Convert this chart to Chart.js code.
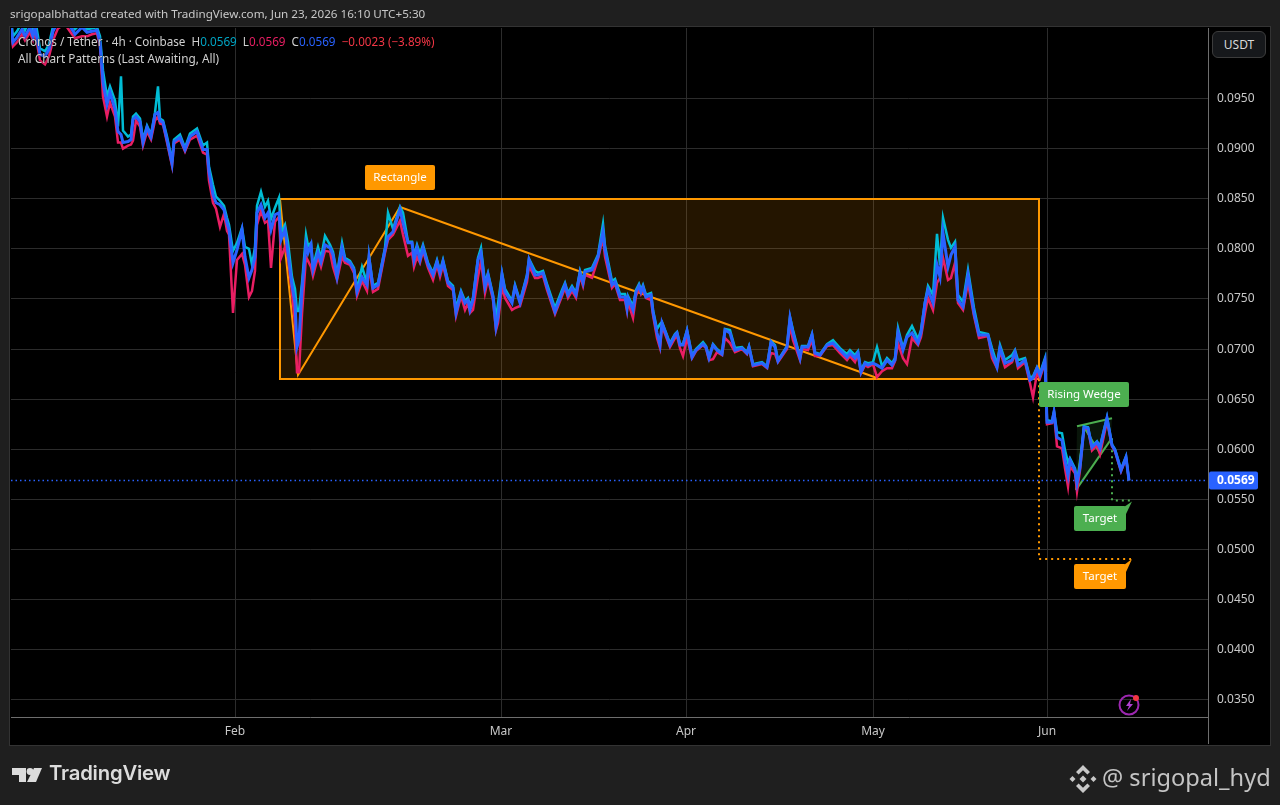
<!DOCTYPE html>
<html>
<head>
<meta charset="utf-8">
<title>Cronos / Tether</title>
<script src="https://cdn.jsdelivr.net/npm/chart.js@4"></script>
<style>
  html, body { margin: 0; padding: 0; background: #1f1f1f; }
  body { position: relative; width: 1280px; height: 805px; overflow: hidden; font-family: "Noto Sans", sans-serif; }
  #panel { position: absolute; left: 10px; top: 27px; width: 1260px; height: 718px; background: #000; box-shadow: 0 0 0 1px #333; }
  canvas { position: absolute; left: 0; top: 0; }
  .txt { position: absolute; white-space: pre; z-index: 2; }
  #header { left: 10px; top: 6px; font-size: 11.66px; color: #c8c8c8; }
  #legend1 { left: 18px; top: 33px; font-size: 11.7px; color: #d0d0d0; text-shadow: 0 0 2px #000; }
  #legend2 { left: 18px; top: 50px; font-size: 11.8px; color: #d0d0d0; text-shadow: 0 0 2px #000; }
  #usdt { left: 1212px; top: 31px; width: 54px; height: 27px; line-height: 27px; text-align: center; box-sizing: border-box;
    border: 1px solid #3c3c3c; border-radius: 6px; background: #16181b; font-size: 12px; color: #d8d8d8; line-height: 25px; }
  #brand { left: 49px; top: 760px; font-family: Inter, sans-serif; font-weight: 600; font-size: 20.3px; color: #dcdcdc; letter-spacing: -0.2px; }
  #handle { left: 1102px; top: 761px; font-size: 23.6px; color: #c4c4c4; }
  svg { position: absolute; z-index: 2; }
</style>
</head>
<body>
<div id="panel"></div>
<canvas id="chart" width="1280" height="805"></canvas>

<div class="txt" id="header">srigopalbhattad created with TradingView.com, Jun 23, 2026 16:10 UTC+5:30</div>
<div class="txt" id="legend1">Cronos / Tether · 4h · Coinbase  H<span style="color:#00a5c4">0.0569</span>  L<span style="color:#e91e63">0.0569</span>  C<span style="color:#2962ff">0.0569</span>  <span style="color:#f23645">−0.0023 (−3.89%)</span></div>
<div class="txt" id="legend2">All Chart Patterns (Last Awaiting, All)</div>
<div class="txt" id="usdt">USDT</div>
<div class="txt" id="brand">TradingView</div>
<div class="txt" id="handle">@ srigopal_hyd</div>

<svg style="left:12px;top:768px" width="32" height="15" viewBox="0 0 32 15">
  <path d="M0 0h14v14h-7v-7h-7z" fill="#dcdcdc"/>
  <circle cx="18" cy="3.5" r="3.4" fill="#dcdcdc"/>
  <path d="M22 0h8l-6 14h-9z" fill="#dcdcdc"/>
</svg>
<svg style="left:1069px;top:765px" width="28" height="28" viewBox="0 0 28 28" fill="#c8c8c8">
  <path d="M14 0l7 7-2.6 2.6L14 5.2 9.6 9.6 7 7z"/>
  <path d="M14 28l7-7-2.6-2.6L14 22.8l-4.4-4.4L7 21z"/>
  <path d="M14 10.5l3.5 3.5-3.5 3.5-3.5-3.5z"/>
  <path d="M3.5 11l3 3-3 3-3-3z"/>
  <path d="M24.5 11l3 3-3 3-3-3z"/>
</svg>
<svg style="left:1117px;top:693px" width="26" height="24" viewBox="0 0 26 24">
  <circle cx="12" cy="12" r="9.5" fill="none" stroke="#9c27b0" stroke-width="2"/>
  <path d="M14 6l-5 7h3l-2 5 6-7h-3z" fill="#b040d0"/>
  <circle cx="19" cy="5" r="3" fill="#f23645"/>
</svg>

<script>
// month ticks and price ticks
const monthBars = [235, 501, 686, 873, 1047];
const monthLabels = ["Feb", "Mar", "Apr", "May", "Jun"];
const priceTicks = [0.035, 0.04, 0.045, 0.05, 0.055, 0.06, 0.065, 0.07, 0.075, 0.08, 0.085, 0.09, 0.095];

// 4h bars, sampled where the line turns
const bars = [
  11,13,17,22,25,30,33,35,40,45,
  49,53,58,65,72,75,82,87,92,97,
  100,103,107,110,115,118,121,123,128,131,
  133,136,140,143,147,151,155,158,160,163,
  167,172,174,180,185,190,197,203,207,209,
  213,216,220,224,227,229,233,237,242,245,
  249,252,255,257,261,265,268,271,275,279,
  281,285,288,292,295,297,299,302,306,308,
  311,313,318,321,325,330,333,337,342,345,
  350,354,357,362,367,369,373,378,385,388,
  393,400,403,408,412,414,417,420,423,428,
  433,437,440,443,448,453,456,461,465,468,
  470,473,478,481,485,488,493,496,498,502,
  505,512,515,520,527,529,535,538,543,547,
  555,562,565,568,572,576,580,583,585,592,
  598,603,605,612,615,620,625,627,628,633,
  636,639,641,643,646,651,653,657,660,662,
  670,675,677,680,683,687,692,696,703,706,
  709,713,717,722,725,730,735,742,747,749,
  753,762,767,771,775,778,787,790,793,800,
  802,808,812,815,820,827,833,840,847,850,
  855,858,861,865,868,873,877,882,887,892,
  895,898,903,907,912,918,921,925,928,933,
  937,940,943,948,951,955,958,963,968,974,
  979,988,992,997,1000,1005,1012,1015,1018,1025,
  1030,1033,1037,1040,1045,1047,1052,1054,1057,1062,
  1065,1068,1070,1075,1077,1080,1084,1088,1092,1097,
  1100,1107,1112,1115,1121,1126,1129
];
const closes = [
  .1021,.1006,.1011,.1019,.1012,.1021,.1012,.1021,.0994,.0992,
  .0999,.1017,.1027,.1029,.1019,.1014,.1021,.1016,.1017,.1018,
  .1006,.0966,.0944,.0956,.0939,.0917,.0914,.0906,.0907,.0909,
  .0929,.0932,.0927,.0906,.0921,.0912,.0934,.0936,.0928,.0926,
  .0909,.0885,.0907,.0911,.0899,.0912,.0917,.0899,.0899,.0877,
  .0854,.0846,.0844,.0839,.0826,.0819,.0786,.0799,.0819,.0792,
  .0771,.0779,.0792,.0836,.0844,.0831,.0836,.0819,.0834,.0836,
  .0809,.0819,.0796,.0764,.0746,.0702,.0709,.0759,.0804,.0796,
  .0804,.0779,.0796,.0787,.0804,.0801,.0794,.0772,.0801,.0789,
  .0786,.0779,.0757,.0772,.0764,.0791,.0761,.0764,.0799,.0812,
  .0817,.0839,.0826,.0806,.0806,.0789,.0801,.0789,.0801,.0784,
  .0774,.0787,.0776,.0787,.0766,.0761,.0736,.0756,.0746,.0749,
  .0739,.0749,.0789,.0796,.0762,.0774,.0752,.0722,.0732,.0774,
  .0757,.0746,.0762,.0746,.0772,.0789,.0774,.0774,.0776,.0762,
  .0737,.0756,.0764,.0754,.0761,.0754,.0776,.0766,.0777,.0779,
  .0792,.0817,.0799,.0764,.0767,.0752,.0752,.0741,.0751,.0739,
  .0757,.0763,.0757,.0762,.0752,.0754,.0737,.0716,.0704,.0726,
  .0704,.0714,.0716,.0704,.0704,.0718,.0692,.0699,.0705,.0702,
  .0691,.0704,.0699,.0695,.0719,.0716,.0699,.0701,.0696,.0702,
  .0684,.0686,.0682,.0707,.0702,.0688,.0702,.0731,.0716,.0691,
  .0702,.0702,.0714,.0696,.0694,.0704,.0706,.0699,.0692,.0696,
  .0691,.0696,.0677,.0686,.0684,.0686,.0684,.0681,.0689,.0684,
  .0689,.0717,.0699,.0712,.0716,.0706,.0716,.0746,.0759,.0746,
  .0784,.0772,.0816,.0782,.0794,.0802,.0749,.0742,.0774,.0736,
  .0714,.0714,.0696,.0682,.0701,.0686,.0689,.0697,.0684,.0689,
  .0669,.0671,.0681,.0674,.0689,.0627,.0627,.0637,.0612,.0609,
  .0589,.0574,.0589,.0579,.0566,.0582,.0622,.0621,.0602,.0607,
  .0601,.0631,.0604,.0599,.0579,.0592,.0569
];
const highs = [
  .1030,.1012,.1017,.1026,.1018,.1030,.1018,.1030,.1000,.0997,
  .1004,.1022,.1032,.1036,.1024,.1019,.1026,.1019,.1020,.1021,
  .1012,.0978,.0952,.0962,.0948,.0922,.0972,.0918,.0912,.0914,
  .0932,.0935,.0930,.0909,.0923,.0914,.0936,.0962,.0930,.0928,
  .0912,.0888,.0909,.0914,.0901,.0915,.0920,.0903,.0906,.0882,
  .0864,.0852,.0848,.0843,.0831,.0824,.0798,.0806,.0821,.0802,
  .0800,.0784,.0802,.0843,.0857,.0842,.0848,.0830,.0841,.0851,
  .0816,.0824,.0807,.0772,.0760,.0738,.0738,.0766,.0814,.0803,
  .0806,.0782,.0802,.0791,.0813,.0804,.0797,.0775,.0806,.0791,
  .0788,.0781,.0760,.0782,.0766,.0793,.0763,.0766,.0801,.0836,
  .0820,.0842,.0836,.0807,.0807,.0793,.0804,.0795,.0804,.0786,
  .0776,.0789,.0778,.0789,.0768,.0763,.0741,.0758,.0748,.0751,
  .0743,.0751,.0791,.0801,.0766,.0776,.0754,.0731,.0745,.0776,
  .0760,.0748,.0764,.0748,.0774,.0790,.0778,.0776,.0778,.0765,
  .0741,.0759,.0766,.0756,.0763,.0756,.0778,.0768,.0779,.0781,
  .0794,.0825,.0803,.0768,.0770,.0755,.0755,.0743,.0753,.0743,
  .0759,.0765,.0759,.0764,.0754,.0756,.0739,.0720,.0725,.0727,
  .0706,.0715,.0717,.0705,.0705,.0719,.0694,.0700,.0707,.0703,
  .0692,.0705,.0700,.0696,.0720,.0719,.0701,.0702,.0697,.0703,
  .0685,.0687,.0683,.0708,.0704,.0689,.0703,.0732,.0719,.0692,
  .0703,.0703,.0715,.0697,.0695,.0705,.0709,.0701,.0695,.0699,
  .0694,.0698,.0679,.0687,.0686,.0687,.0702,.0683,.0691,.0686,
  .0691,.0721,.0701,.0714,.0723,.0710,.0719,.0747,.0763,.0754,
  .0815,.0784,.0831,.0809,.0801,.0807,.0754,.0747,.0779,.0741,
  .0717,.0715,.0701,.0685,.0704,.0689,.0694,.0699,.0689,.0691,
  .0671,.0673,.0682,.0676,.0691,.0629,.0628,.0638,.0617,.0616,
  .0599,.0587,.0591,.0581,.0569,.0584,.0623,.0622,.0603,.0608,
  .0603,.0632,.0605,.0600,.0580,.0593,.0569
];
const lows = [
  .1016,.1002,.1006,.1014,.1008,.1016,.1008,.1016,.0988,.0984,
  .0992,.1008,.1020,.1024,.1014,.1010,.1012,.1012,.1014,.1015,
  .1002,.0952,.0932,.0946,.0932,.0906,.0906,.0900,.0903,.0904,
  .0908,.0928,.0922,.0903,.0917,.0909,.0928,.0932,.0925,.0924,
  .0906,.0883,.0905,.0909,.0897,.0909,.0913,.0896,.0894,.0868,
  .0846,.0840,.0822,.0835,.0818,.0814,.0736,.0789,.0795,.0784,
  .0752,.0758,.0778,.0824,.0838,.0826,.0828,.0781,.0827,.0832,
  .0791,.0802,.0791,.0756,.0726,.0677,.0677,.0735,.0792,.0788,
  .0782,.0773,.0792,.0782,.0798,.0797,.0782,.0769,.0792,.0786,
  .0784,.0776,.0753,.0768,.0758,.0782,.0757,.0760,.0796,.0809,
  .0814,.0828,.0814,.0793,.0796,.0782,.0792,.0786,.0798,.0781,
  .0769,.0784,.0772,.0784,.0763,.0759,.0733,.0753,.0739,.0746,
  .0736,.0739,.0772,.0788,.0756,.0770,.0749,.0719,.0726,.0762,
  .0751,.0739,.0741,.0743,.0767,.0783,.0771,.0771,.0773,.0759,
  .0735,.0753,.0761,.0751,.0758,.0751,.0773,.0763,.0774,.0771,
  .0790,.0811,.0792,.0761,.0765,.0749,.0749,.0738,.0747,.0731,
  .0753,.0761,.0755,.0759,.0751,.0749,.0734,.0711,.0701,.0723,
  .0702,.0711,.0713,.0701,.0693,.0711,.0691,.0698,.0704,.0701,
  .0689,.0690,.0697,.0694,.0711,.0706,.0697,.0700,.0695,.0701,
  .0683,.0685,.0681,.0696,.0695,.0687,.0700,.0723,.0709,.0689,
  .0700,.0699,.0709,.0693,.0693,.0703,.0704,.0696,.0689,.0693,
  .0687,.0695,.0676,.0684,.0682,.0685,.0672,.0678,.0681,.0681,
  .0688,.0706,.0691,.0685,.0711,.0704,.0712,.0736,.0751,.0739,
  .0766,.0771,.0791,.0769,.0771,.0786,.0746,.0739,.0766,.0733,
  .0711,.0713,.0691,.0681,.0698,.0682,.0687,.0695,.0681,.0687,
  .0666,.0652,.0676,.0671,.0687,.0625,.0626,.0636,.0603,.0601,
  .0581,.0563,.0583,.0576,.0558,.0579,.0621,.0620,.0599,.0604,
  .0595,.0628,.0603,.0598,.0578,.0591,.0569
];

const lastPrice = 0.0569;
const lineBars = [11, 1208];
const lineStart = 11;

// chart patterns
const rectBars = [280, 1039, 1039, 280, 280];
const rectPrices = [0.08497, 0.08497, 0.06702, 0.06702, 0.08497];
const zigBars = [280, 298, 400, 877];
const zigPrices = [0.08497, 0.06742, 0.08418, 0.06712];
const wedgeBars = [1077, 1112, 1111, 1076, 1077];
const wedgePrices = [0.0623, 0.0631, 0.0610, 0.05595, 0.0623];
const wedgeZigBars = [1076, 1084, 1100, 1107];
const wedgeZigPrices = [0.05595, 0.0622, 0.0596, 0.0631];
const greenTargetBars = [1112, 1112, 1131];
const greenTargetPrices = [0.0611, 0.0549, 0.0549];
const orangeTargetBars = [1039, 1039, 1131];
const orangeTargetPrices = [0.0670, 0.04906, 0.04906];

const ORANGE = "#ff9800";
const GREEN = "#4caf50";
const FONT = '"Noto Sans", sans-serif';

function pts(xs, ys) {
  return xs.map((x, i) => ({ x: x, y: ys[i] }));
}

function roundBox(ctx, x, y, w, h, color, text) {
  ctx.fillStyle = color;
  ctx.beginPath();
  ctx.roundRect(x, y, w, h, 2);
  ctx.fill();
  ctx.fillStyle = "#fff";
  ctx.font = "11.5px " + FONT;
  ctx.textAlign = "center";
  ctx.textBaseline = "middle";
  ctx.fillText(text, x + w / 2, y + h / 2);
}

// label boxes, the price tag and the axis corner
const overlays = {
  id: "overlays",
  afterDatasetsDraw(chart) {
    const ctx = chart.ctx;
    const xs = chart.scales.x;
    const ys = chart.scales.y;
    ctx.save();

    roundBox(ctx, 365, 165, 70, 25, ORANGE, "Rectangle");
    roundBox(ctx, 1039, 382, 90, 25, GREEN, "Rising Wedge");

    roundBox(ctx, 1074, 506, 52, 25, GREEN, "Target");
    ctx.fillStyle = GREEN;
    ctx.beginPath();
    ctx.moveTo(1124, 507);
    ctx.lineTo(xs.getPixelForValue(1132), ys.getPixelForValue(0.0548));
    ctx.lineTo(1126, 514);
    ctx.fill();

    roundBox(ctx, 1074, 564, 52, 25, ORANGE, "Target");
    ctx.fillStyle = ORANGE;
    ctx.beginPath();
    ctx.moveTo(1124, 565);
    ctx.lineTo(xs.getPixelForValue(1132), ys.getPixelForValue(0.04906));
    ctx.lineTo(1126, 572);
    ctx.fill();

    // price tag on the axis
    const py = ys.getPixelForValue(lastPrice);
    ctx.fillStyle = "#2962ff";
    ctx.beginPath();
    ctx.roundRect(1209, py - 9, 49, 18, 2);
    ctx.fill();
    ctx.fillStyle = "#fff";
    ctx.font = "bold 12px " + FONT;
    ctx.textAlign = "left";
    ctx.textBaseline = "middle";
    ctx.fillText(lastPrice.toFixed(4), 1217, py + 0.5);

    // axis line carries on through the time strip
    ctx.strokeStyle = "#6e6e6e";
    ctx.lineWidth = 1;
    ctx.beginPath();
    ctx.moveTo(1208.5, 717);
    ctx.lineTo(1208.5, 744);
    ctx.stroke();
    ctx.restore();
  },
};

new Chart(document.getElementById("chart").getContext("2d"), {
  type: "line",
  plugins: [overlays],
  data: {
    datasets: [
      {
        label: "Rectangle",
        data: pts(rectBars, rectPrices),
        borderColor: ORANGE,
        borderWidth: 2,
        backgroundColor: "rgba(255,152,0,0.14)",
        fill: "shape",
        pointRadius: 0,
        tension: 0,
        borderJoinStyle: "miter",
        order: 10,
      },
      {
        label: "Zigzag",
        data: pts(zigBars, zigPrices),
        borderColor: ORANGE,
        borderWidth: 2,
        pointRadius: 0,
        tension: 0,
        order: 9,
      },
      {
        label: "Wedge",
        data: pts(wedgeBars, wedgePrices),
        borderColor: "rgba(0,0,0,0)",
        borderWidth: 0,
        backgroundColor: "rgba(76,175,80,0.12)",
        fill: "shape",
        pointRadius: 0,
        tension: 0,
        order: 9,
      },
      {
        label: "Wedge upper",
        data: pts(wedgeBars.slice(0, 2), wedgePrices.slice(0, 2)),
        borderColor: GREEN,
        borderWidth: 2,
        pointRadius: 0,
        tension: 0,
        order: 8,
      },
      {
        label: "Wedge lower",
        data: pts(wedgeBars.slice(2, 4), wedgePrices.slice(2, 4)),
        borderColor: GREEN,
        borderWidth: 2,
        pointRadius: 0,
        tension: 0,
        order: 8,
      },
      {
        label: "Wedge zigzag",
        data: pts(wedgeZigBars, wedgeZigPrices),
        borderColor: GREEN,
        borderWidth: 2,
        pointRadius: 0,
        tension: 0,
        order: 8,
      },
      {
        label: "Target orange",
        data: pts(orangeTargetBars, orangeTargetPrices),
        borderColor: ORANGE,
        borderWidth: 2,
        borderDash: [2, 4],
        pointRadius: 0,
        tension: 0,
        order: 7,
      },
      {
        label: "Target green",
        data: pts(greenTargetBars, greenTargetPrices),
        borderColor: GREEN,
        borderWidth: 2,
        borderDash: [2, 4],
        pointRadius: 0,
        tension: 0,
        order: 7,
      },
      {
        label: "Last price",
        data: pts(lineBars, [lastPrice, lastPrice]),
        borderColor: "#2962ff",
        borderWidth: 1.5,
        borderDash: [1.5, 3],
        pointRadius: 0,
        tension: 0,
        order: 6,
      },
      {
        label: "Low",
        data: pts(bars, lows),
        borderColor: "#e91e63",
        borderWidth: 2.5,
        pointRadius: 0,
        tension: 0,
        order: 5,
      },
      {
        label: "High",
        data: pts(bars, highs),
        borderColor: "#00bcd4",
        borderWidth: 2.5,
        pointRadius: 0,
        tension: 0,
        order: 4,
      },
      {
        label: "Close",
        data: pts(bars, closes),
        borderColor: "#2962ff",
        borderWidth: 3,
        pointRadius: 0,
        tension: 0,
        order: 3,
      },
    ],
  },
  options: {
    responsive: false,
    animation: false,
    parsing: false,
    normalized: true,
    layout: { padding: { left: 11, top: 28, right: 10, bottom: 61 } },
    plugins: { legend: { display: false }, tooltip: { enabled: false } },
    scales: {
      x: {
        type: "linear",
        min: lineStart,
        max: 1208,
        afterFit: (axis) => { axis.height = 27; },
        afterBuildTicks: (axis) => { axis.ticks = monthBars.map((v) => ({ value: v })); },
        grid: { color: "#2c2c2c", drawTicks: false },
        border: { color: "#6e6e6e" },
        ticks: {
          color: "#c8c8c8",
          font: { family: FONT, size: 12 },
          padding: 7,
          maxRotation: 0,
          autoSkip: false,
          callback: (v) => monthLabels[monthBars.indexOf(v)],
        },
      },
      y: {
        position: "right",
        min: 0.0333,
        max: 0.10203,
        afterFit: (axis) => { axis.width = 62; },
        afterBuildTicks: (axis) => { axis.ticks = priceTicks.map((v) => ({ value: v })); },
        grid: { color: "#2c2c2c", drawTicks: false },
        border: { color: "#6e6e6e" },
        ticks: {
          color: "#c8c8c8",
          font: { family: FONT, size: 12 },
          padding: 9,
          autoSkip: false,
          callback: (v) => v.toFixed(4),
        },
      },
    },
  },
});
</script>
</body>
</html>
